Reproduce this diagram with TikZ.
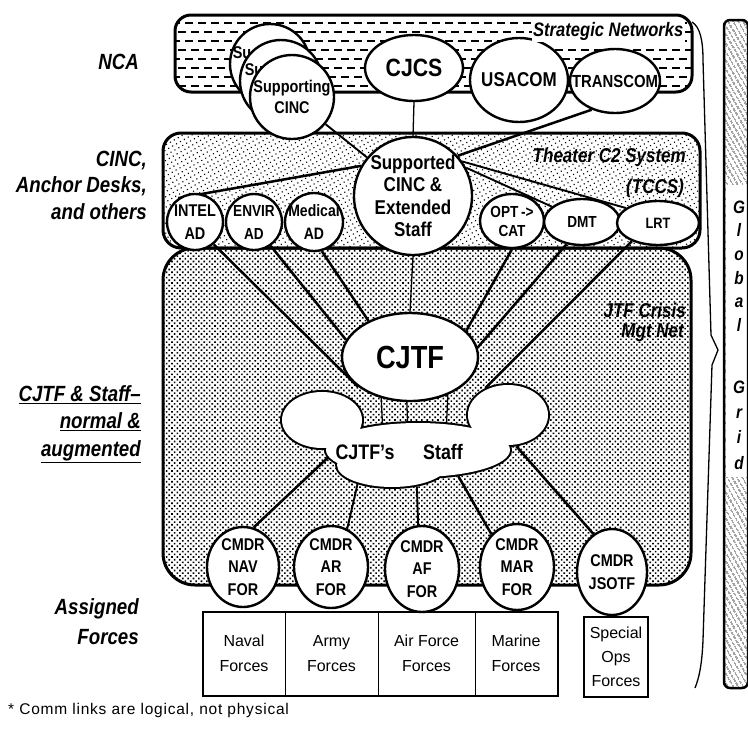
\documentclass[tikz,border=0pt]{standalone}
\usepackage{fontspec}
\setmainfont{Liberation Sans}[FakeStretch=0.85]
\newfontfamily\plainfont{Liberation Sans}
\newfontfamily\notefont{Liberation Sans}[LetterSpace=5]
\usetikzlibrary{shapes.geometric,patterns.meta}
\pgfdeclarelayer{bg}
\pgfdeclarelayer{lk}
\pgfsetlayers{bg,lk,main}
\newcommand\fsz[2]{\fontsize{#1}{#2}\selectfont}
\begin{document}
\begin{tikzpicture}[x=1pt,y=-1pt,
  every node/.style={inner sep=0pt,align=center},
  ov/.style={ellipse,draw,fill=white,line width=2.4pt,inner sep=-20pt},
  rnd/.style={circle,draw,fill=white,line width=2.4pt,inner sep=-20pt},
  frame/.style={line width=3pt},
  thk/.style={line width=2.5pt},
  med/.style={line width=1.9pt},
  thn/.style={line width=1.3pt},
  lab/.style={anchor=east,align=right,font=\bfseries\itshape\fsz{22}{26.5}},
  netlab/.style={anchor=east,align=right,font=\bfseries\itshape\fsz{20}{24}},
  cell/.style={draw,line width=1pt,font=\plainfont\fsz{16}{25}},
  dashrow/.style={line width=1.8pt,dash pattern=on 8pt off 5pt},
]
\useasboundingbox (0,0) rectangle (748,729);

% ---------------- background boxes ----------------
\begin{pgfonlayer}{bg}
  \begin{scope}
    \clip[rounded corners=16pt] (175,15) rectangle (692,92);
    \foreach \yy in {23,41,59,77} \draw[dashrow] (172,\yy) -- (700,\yy);
    \foreach \yy in {32,50,68,86} \draw[dashrow] (178,\yy) -- (700,\yy);
  \end{scope}
  \draw[frame,rounded corners=16pt] (175,15) rectangle (692,92);
  \fill[pattern={Dots[distance=4.5pt,radius=0.8pt,angle=30]},rounded corners=18pt] (163,133) rectangle (700,248);
  \draw[frame,rounded corners=18pt] (163,133) rectangle (700,248);
  \fill[pattern={Dots[distance=3.8pt,radius=1.15pt,angle=45]},rounded corners=32pt] (163,248) rectangle (691,585);
  \draw[frame,rounded corners=32pt] (163,248) rectangle (691,585);
  % Global grid box
  \fill[pattern={Lines[angle=-60,distance=4pt,line width=0.9pt]},rounded corners=6pt] (724,20) rectangle (748,688);
  \fill[white] (726,185) rectangle (746.5,477);
  \draw[line width=2.5pt,rounded corners=6pt] (724,20) rectangle (748,688);
  % brace
  \draw[line width=1.3pt] (692,22) .. controls (700,27) and (703,40) .. (703,60)
     -- (711,335) -- (718,350) -- (712,365) -- (703,640)
     .. controls (702,665) and (699,678) .. (695,688);
\end{pgfonlayer}

% ---------------- nodes ----------------
\node[rnd,minimum size=80pt] (supc1) at (270,64) {};
\node[font=\bfseries\fsz{17}{21}] (su1) at (242,53) {Su};
\node[rnd,minimum size=82pt] (supc2) at (281,81) {};
\node[font=\bfseries\fsz{17}{21}] (su2) at (254,70) {Su};
\node[rnd,minimum size=84pt,font=\bfseries\fsz{17}{21}] (supc3) at (292,97) {Supporting\\CINC};
\node[ov,minimum width=98pt,minimum height=66pt,font=\bfseries\fsz{25}{28}] (cjcs) at (414,68) {CJCS};
\node[ov,minimum width=98pt,minimum height=84pt,font=\bfseries\fsz{20}{24}] (usacom) at (519,80) {USACOM};
\node[ov,minimum width=90pt,minimum height=64pt,font=\bfseries\fsz{17.5}{21}] (transcom) at (615,81) {TRANSCOM};

\node[rnd,minimum size=118pt,font=\bfseries\fsz{20}{22.5}] (supd) at (413,196) {Supported\\CINC \&\\Extended\\Staff};
\node[rnd,minimum size=56pt,font=\bfseries\fsz{17}{23}] (intel) at (195,222) {INTEL\\AD};
\node[rnd,minimum size=56pt,font=\bfseries\fsz{16}{23}] (envir) at (254,222) {ENVIR\\AD};
\node[rnd,minimum size=58pt,font=\bfseries\fsz{16.5}{23}] (medical) at (314,222) {Medical\\AD};
\node[ov,minimum width=64pt,minimum height=54pt,font=\bfseries\fsz{16}{19}] (opt) at (512,221) {OPT\,->\\CAT};
\node[ov,minimum width=76pt,minimum height=46pt,font=\bfseries\fsz{16}{19}] (dmt) at (582,222) {DMT};
\node[ov,minimum width=82pt,minimum height=44pt,font=\bfseries\fsz{15}{18}] (lrt) at (658,223) {LRT};

\node[ov,minimum width=136pt,minimum height=88pt,font=\bfseries\fsz{32}{36}] (cjtf) at (410,357) {CJTF};

\node[ov,minimum width=72pt,minimum height=80pt,font=\bfseries\fsz{17}{22.5}] (nav) at (243,567) {CMDR\\NAV\\FOR};
\node[ov,minimum width=74pt,minimum height=82pt,font=\bfseries\fsz{17}{22.5}] (ar) at (331,567) {CMDR\\AR\\FOR};
\node[ov,minimum width=74pt,minimum height=86pt,font=\bfseries\fsz{17}{22.5}] (af) at (422,569) {CMDR\\AF\\FOR};
\node[ov,minimum width=74pt,minimum height=86pt,font=\bfseries\fsz{17}{22.5}] (mar) at (517,567) {CMDR\\MAR\\FOR};
\node[ov,minimum width=70pt,minimum height=86pt,font=\bfseries\fsz{17}{22.5}] (jsotf) at (612,572) {CMDR\\JSOTF};

% staff cloud
\foreach \n/\cx/\cy/\a/\b in {sl/322/420/40/28, sr/508/415/40/30, sb/392/465/55/22, sm/418/450/92/27}
  \node[ellipse,draw,line width=4pt,inner sep=-20pt,minimum width={2*\a*1pt},minimum height={2*\b*1pt}] (\n) at (\cx,\cy) {};
\foreach \cx/\cy/\a/\b in {322/420/40/28, 508/415/40/30, 392/465/55/22, 418/450/92/27}
  \fill[white] (\cx,\cy) ellipse [x radius=\a, y radius=\b];
\node[font=\bfseries\fsz{21}{24}] (stafft1) at (365,452) {CJTF’s};
\node[font=\bfseries\fsz{21}{24}] (stafft2) at (443,452) {Staff};

% forces
\node[cell,minimum width=82pt,minimum height=83pt] (fnav) at (244,653.5) {Naval\\Forces};
\node[cell,minimum width=93pt,minimum height=83pt] (farmy) at (331.5,653.5) {Army\\Forces};
\node[cell,minimum width=97pt,minimum height=83pt] (faf) at (426.5,653.5) {Air Force\\Forces};
\node[cell,minimum width=82pt,minimum height=83pt] (fmar) at (516,653.5) {Marine\\Forces};
\draw[line width=2pt] (fnav.north west) rectangle (fmar.south east);
\node[cell,line width=2pt,minimum width=64pt,minimum height=80pt,font=\plainfont\fsz{16}{24}] (fsof) at (616,657) {Special\\Ops\\Forces};

% ---------------- connectors ----------------
\begin{pgfonlayer}{lk}
  \draw[thn] (cjcs.south) -- (supd.north);
  \draw[thk] (transcom.231) -- (supd.42);
  \draw[med] (supc3.321) -- (supd.140);
  \draw[thk] (supd.150) -- (intel.125);
  \draw[med] (supd.35) -- (lrt.155);
  \draw[med] (supd.28) -- (dmt.153);
  \draw[thn] (supd.south) -- (cjtf.north);
  \draw[thk] (intel.-50) -- (cjtf.210);
  \draw[thk] (envir.-55) -- (cjtf.165);
  \draw[thk] (medical.-75) -- (cjtf.139);
  \draw[thk] (opt.-90) -- (cjtf.25);
  \draw[thk] (dmt.-125) -- (cjtf.8);
  \draw[thk] (lrt.215) -- (sr.130);
  \draw[thn] (cjtf.235) -- (sm.143);
  \draw[thn] (cjtf.266) -- (sm.110);
  \draw[thn] (cjtf.315) -- (sm.44);
  \draw[thk] (sm.185) -- (nav.75);
  \draw[med] (sb.209) -- (ar.67);
  \draw[med] (sb.-41) -- (af.95);
  \draw[thk] (sm.-33) -- (mar.128);
  \draw[thk] (sr.-75) -- (jsotf.116);
\end{pgfonlayer}

% ---------------- labels ----------------
\node[netlab,fill=white,inner sep=1.5pt,font=\bfseries\itshape\fsz{19.5}{24}] (stratlab) at (685,31) {Strategic Networks};
\node[netlab] (tccslab) at (686,157) {Theater C2 System};
\node[netlab] (tccslab2) at (684,188) {(TCCS)};
\node[netlab] (jtflab) at (686,310) {JTF Crisis};
\node[netlab] (jtflab2) at (684,333) {Mgt Net};

\node[lab] (nca) at (139,62) {NCA};
\node[lab] (cinclab) at (147,185) {CINC,\\Anchor Desks,\\and others};
\node[lab,font=\bfseries\itshape\fsz{22}{27.5}] (cjtflab) at (141,424) {\underline{CJTF \& Staff–}\\\underline{normal \&}\\\underline{augmented}};
\node[lab,font=\bfseries\itshape\fsz{22}{30}] (assg) at (139,622) {Assigned\\Forces};

\node[font=\bfseries\itshape\fsz{18}{23.6}] (gg1) at (739,266) {G\\l\\o\\b\\a\\l};
\node[font=\bfseries\itshape\fsz{18}{25.3}] (gg2) at (739,425) {G\\r\\i\\d};

\node[anchor=west,font=\notefont\fsz{15.5}{18}] (note) at (8,710) {* Comm links are logical, not physical};
\end{tikzpicture}
\end{document}
